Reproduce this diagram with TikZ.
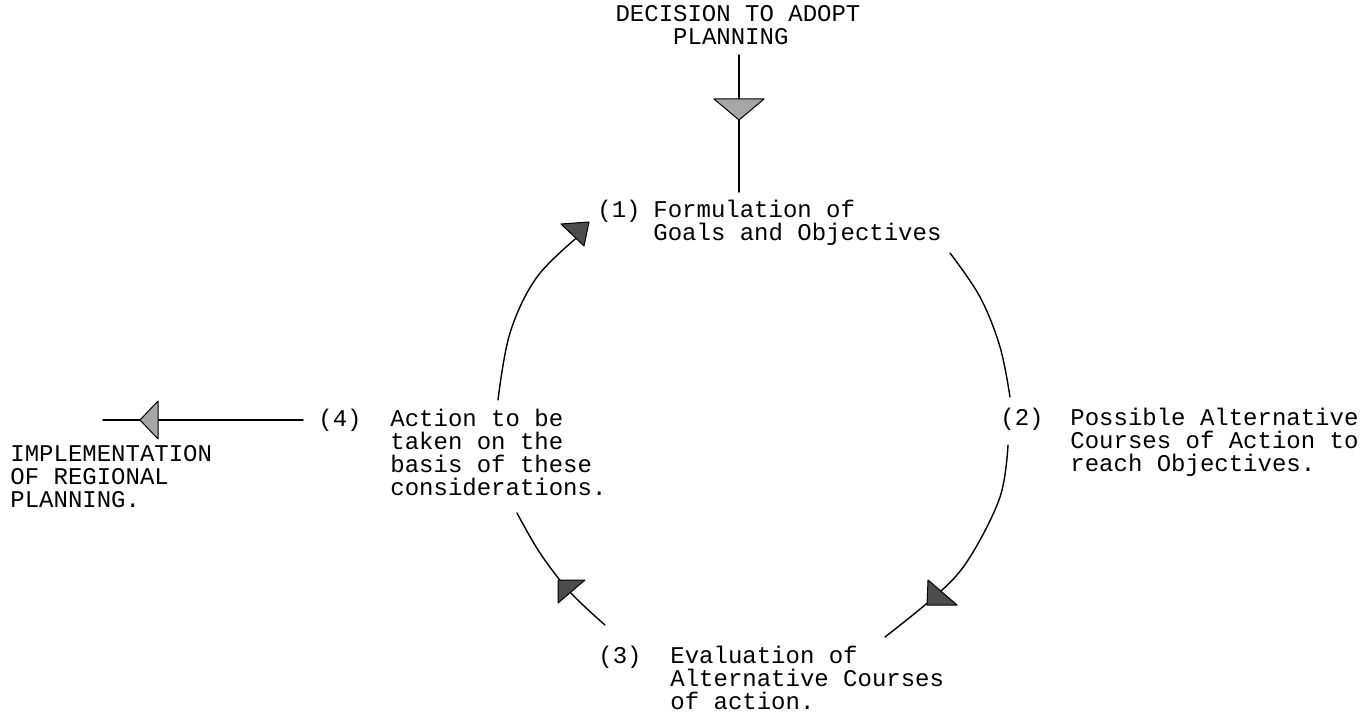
\documentclass[tikz,border=0pt]{standalone}
\usepackage{fontspec}
\setmainfont{Liberation Mono}
\begin{document}
\begin{tikzpicture}[x=0.5pt,y=-0.5pt,
  txt/.style={anchor=base west, inner sep=0pt, align=left,
    font=\fontsize{12pt}{11.5pt}\selectfont},
  conn/.style={line width=0.7pt, line cap=round},
  headlight/.style={draw=black, line width=0.5pt, fill=black!35, line join=round},
  headdark/.style={draw=black, line width=0.5pt, fill=black!70, line join=round}]
\useasboundingbox (0,0) rectangle (1368,715);

% texts (anchor = baseline of the last line; lines are 23 units apart)
\node[txt, anchor=base] (title) at (738,45) {DECISION TO ADOPT\\\phantom{DECI}PLANNING};
\node[txt] (n1) at (597,218) {(1)};
\node[txt] (t1) at (653,241) {Formulation of\\Goals and Objectives};
\node[txt] (n2) at (1000,425) {(2)};
\node[txt] (t2) at (1070,471) {Possible Alternative\\Courses of Action to\\reach Objectives.};
\node[txt] (n3) at (598,663) {(3)};
\node[txt] (t3) at (670,709) {Evaluation of\\Alternative Courses\\of action.};
\node[txt] (n4) at (318,426) {(4)};
\node[txt] (t4) at (390,495) {Action to be\\taken on the\\basis of these\\considerations.};
\node[txt] (impl) at (10,507) {IMPLEMENTATION\\OF REGIONAL\\PLANNING.};

% connector end points
\coordinate (vtop) at (739,55);
\coordinate (vbot) at (739,192);
\coordinate (hR) at (303,420);
\coordinate (hL) at (103,420);
\coordinate (ulA) at (498,400);
\coordinate (ulB) at (580,235);
\coordinate (urA) at (950,253);
\coordinate (urB) at (1010,397);
\coordinate (lrA) at (1008,445);
\coordinate (lrB) at (885,637);
\coordinate (llA) at (605,625);
\coordinate (llB) at (517,513);

% decision -> (1)
\draw[conn] (vtop) -- (vbot);
\filldraw[headlight] (739,120) -- (714,99) -- (764,99) -- cycle;

% (4) -> implementation
\draw[conn] (hR) -- (hL);
\filldraw[headlight] (140,420) -- (158,401) -- (158,439) -- cycle;

% (4) -> (1)
\draw[conn] plot[smooth, tension=0.6] coordinates {(ulA) (510,333) (537,277) (ulB)};
\filldraw[headdark] (589,222) -- (561,224) -- (584,246) -- cycle;

% (1) -> (2)
\draw[conn] plot[smooth, tension=0.6] coordinates {(urA) (980,297) (1000,347) (urB)};

% (2) -> (3)
\draw[conn] plot[smooth, tension=0.6] coordinates {(lrA) (1000,497) (970,557) (940,592) (lrB)};
\filldraw[headdark] (927,605) -- (928,580) -- (957,605) -- cycle;

% (3) -> (4)
\draw[conn] plot[smooth, tension=0.6] coordinates {(llA) (570,592) (540,553) (llB)};
\filldraw[headdark] (558,580) -- (585,580) -- (558,603) -- cycle;
\end{tikzpicture}
\end{document}
